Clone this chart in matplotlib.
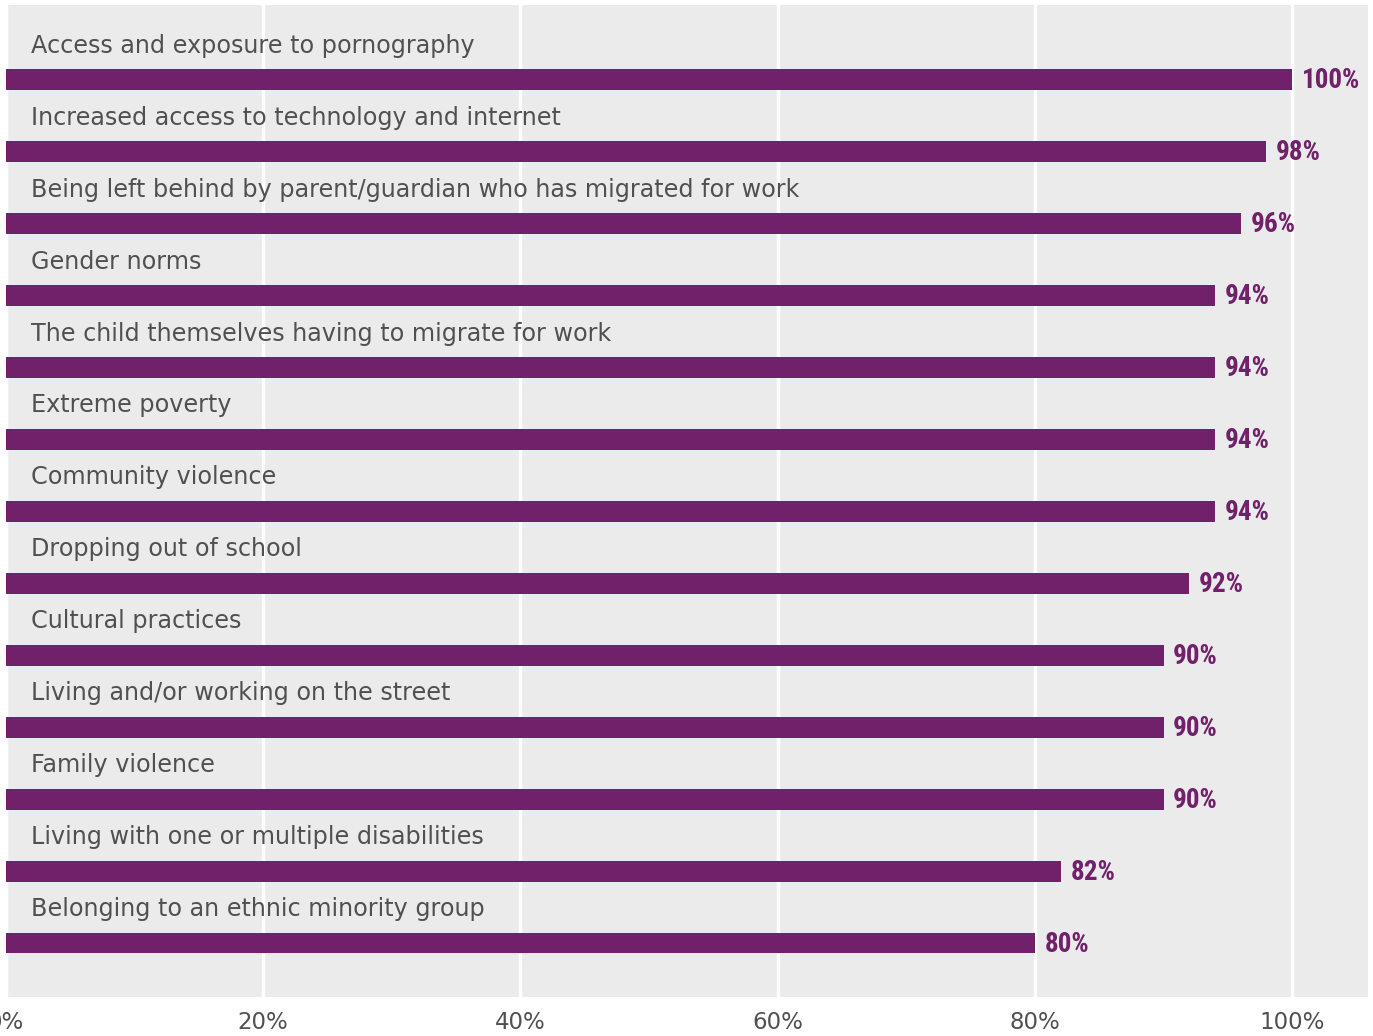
import numpy as np
import matplotlib.pyplot as plt
from matplotlib import font_manager
from matplotlib.font_manager import FontProperties

categories = [
    "Access and exposure to pornography",
    "Increased access to technology and internet",
    "Being left behind by parent/guardian who has migrated for work",
    "Gender norms",
    "The child themselves having to migrate for work",
    "Extreme poverty",
    "Community violence",
    "Dropping out of school",
    "Cultural practices",
    "Living and/or working on the street",
    "Family violence",
    "Living with one or multiple disabilities",
    "Belonging to an ethnic minority group",
]
values = [100, 98, 96, 94, 94, 94, 94, 92, 90, 90, 90, 82, 80]
xticks = [0, 20, 40, 60, 80, 100]
xtick_labels = ["0%", "20%", "40%", "60%", "80%", "100%"]

purple = "#70216a"
grey_text = "#505050"

# pick the narrowest bold face available for the value labels
prefs = ["Roboto Condensed", "Liberation Sans Narrow", "Open Sans Condensed",
         "Noto Sans Condensed", "DejaVu Sans Condensed"]
cond = None
for want in prefs:
    for f in font_manager.fontManager.ttflist:
        if want.lower() in (f.name + " " + str(f.stretch)).lower() or \
                (want.split()[0] == f.name and want.split()[-1].lower() in str(f.stretch).lower()):
            if f.weight in ("bold", 700, "heavy", 800) and "italic" not in f.style:
                cond = FontProperties(fname=f.fname, size=19.5)
                break
    if cond is not None:
        break
if cond is None:
    for f in font_manager.fontManager.ttflist:
        if "condensed" in str(f.stretch).lower() and f.weight in ("bold", 700):
            cond = FontProperties(fname=f.fname, size=19.5)
            break
if cond is None:
    cond = FontProperties(family="DejaVu Sans", weight="bold", size=16)

fig = plt.figure(figsize=(13.73, 10.36), dpi=100)
ax = fig.add_axes([6 / 1373, 1 - 997 / 1036, 1362 / 1373, 992 / 1036])
ax.set_facecolor("#ebebeb")

y = np.arange(len(categories))
ax.barh(y, values, height=0.29, color=purple, zorder=3)

for i, (cat, v) in enumerate(zip(categories, values)):
    ax.text(1.95, i - 0.47, cat, fontsize=17.2, color=grey_text,
            family="DejaVu Sans", va="center", ha="left", zorder=4)
    ax.text(v + 0.75, i + 0.02, f"{v}%", fontproperties=cond, color=purple,
            va="center", ha="left", zorder=4)

ax.set_xlim(0, 105.9)
ax.set_ylim(12.75, -1.035)
ax.set_xticks(xticks)
ax.set_xticklabels(xtick_labels, fontsize=16.5, color=grey_text, family="DejaVu Sans")
ax.set_yticks([])
ax.tick_params(axis="x", length=0, pad=10)
ax.grid(axis="x", color="white", linewidth=2.5, zorder=1)
for s in ax.spines.values():
    s.set_visible(False)

fig.savefig("out.png", dpi=100)
